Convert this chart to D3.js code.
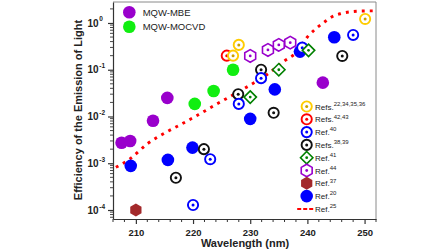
<!DOCTYPE html>
<html><head><meta charset="utf-8">
<script src="https://cdn.jsdelivr.net/npm/d3@7"></script>
<style>body{margin:0;background:#fff}svg{display:block;font-family:"Liberation Sans",Arial,sans-serif}</style>
</head><body><svg id="c" width="448" height="252"></svg>
<script>
// ---- data ----
const mbeX = [207.5, 209.0, 213.0, 215.5, 242.7];
const mbeY = [2.75e-3, 3.0e-3, 8.1e-3, 0.025, 0.053];
const mocvdX = [220.3, 223.6, 227.0];
const mocvdY = [0.0186, 0.035, 0.10];
const ref20X = [209.1, 215.6, 219.9, 230.0, 234.3, 238.7, 244.7];
const ref20Y = [8.8e-4, 1.18e-3, 2.16e-3, 8.9e-3, 0.038, 0.244, 0.495];
const ref37X = [210.0];
const ref37Y = [1e-4];
const ref3839X = [217.0, 221.9, 227.9, 231.9, 234.1, 246.1];
const ref3839Y = [4.9e-4, 2.0e-3, 0.030, 0.10, 0.012, 0.197];
const ref4243X = [225.9];
const ref4243Y = [0.2];
const ref22X = [227.0, 228.0, 250.1];
const ref22Y = [0.2, 0.34, 1.22];
const ref40X = [220.0, 223.0, 228.0, 231.9, 239.1, 248.0];
const ref40Y = [1.28e-4, 1.22e-3, 0.0186, 0.066, 0.297, 0.555];
const ref41X = [230.0, 235.0, 240.2];
const ref41Y = [0.026, 0.1, 0.26];
const ref44X = [230.0, 233.1, 235.0, 237.0];
const ref44Y = [0.197, 0.265, 0.34, 0.38];
const ref25X = [206.5, 209, 212, 215, 218, 221, 224, 227, 230, 233, 236, 238, 240, 241.5, 243, 244.5, 246, 248, 250, 252];
const ref25Y = [8.2e-4, 1.25e-3, 2.6e-3, 4.4e-3, 6.9e-3, 0.011, 0.018, 0.029, 0.047, 0.08, 0.155, 0.23, 0.5, 0.76, 1.05, 1.4, 1.6, 1.76, 1.81, 1.82];
const xTicks = [210, 220, 230, 240, 250];
const yTickExp = [0, -1, -2, -3, -4];
const legendLabels = [["Refs.", "22,34,35,36"], ["Refs.", "42,43"], ["Ref.", "40"], ["Refs.", "38,39"], ["Ref.", "41"], ["Ref.", "44"], ["Ref.", "37"], ["Ref.", "20"], ["Ref.", "25"]];

// ---- layout ----
const L = 113, R = 376, T = 2, B = 219;
const svg = d3.select("#c");
const x = d3.scaleLinear().domain([206, 252]).range([L, R]);
const y = d3.scaleLog().domain([6.42e-5, 2.81]).range([B, T]);

const C = {purple: "#9900cc", green: "#11ee11", blue: "#0000ff", brown: "#a3292b", black: "#111", red: "#ff0000", gold: "#ffcc00", dgreen: "#008000"};

// frame
svg.append("path").attr("d", `M${L},${T}H${R}V${B}`).attr("fill", "none").attr("stroke", "#8a8a8a").attr("stroke-width", 1);

// dotted line
const line = d3.line().x(d => x(d[0])).y(d => y(d[1])).curve(d3.curveMonotoneX);
svg.append("path").datum(ref25X.map((v, i) => [v, ref25Y[i]]))
  .attr("d", line).attr("fill", "none").attr("stroke", C.red).attr("stroke-width", 2.9).attr("stroke-dasharray", "2.9,5.1");

// marker helpers
function hexPath(r) {
  const p = d3.path();
  for (let i = 0; i < 6; i++) {
    const a = Math.PI / 2 + i * Math.PI / 3;
    const px = r * Math.cos(a), py = r * Math.sin(a);
    if (i === 0) p.moveTo(px, py); else p.lineTo(px, py);
  }
  p.closePath();
  return p.toString();
}
function drawMarker(g, type, cx, cy) {
  const m = g.append("g").attr("transform", `translate(${cx},${cy})`);
  if (type.kind === "disc") {
    m.append("circle").attr("r", 6.3).attr("fill", type.color);
  } else if (type.kind === "ring") {
    m.append("circle").attr("r", 5.1).attr("fill", "#fff").attr("stroke", type.color).attr("stroke-width", 1.9);
    m.append("circle").attr("r", 1.5).attr("fill", type.color === C.gold ? "#c8a000" : type.color);
  } else if (type.kind === "diamond") {
    m.append("path").attr("d", "M0,-6.2L6.2,0L0,6.2L-6.2,0Z").attr("fill", "#fff").attr("stroke", type.color).attr("stroke-width", 1.6);
    m.append("circle").attr("r", 1.4).attr("fill", type.color);
  } else if (type.kind === "hex") {
    m.append("path").attr("d", hexPath(6.3)).attr("fill", "#fff").attr("stroke", type.color).attr("stroke-width", 1.6);
    m.append("circle").attr("r", 1.4).attr("fill", type.color);
  } else if (type.kind === "hexfill") {
    m.append("path").attr("d", hexPath(6.5)).attr("fill", type.color);
  } else if (type.kind === "dash") {
    m.append("line").attr("x1", -9.5).attr("x2", 6.5).attr("stroke", type.color).attr("stroke-width", 2).attr("stroke-dasharray", "4,2");
  }
}
const T_MBE = {kind: "disc", color: C.purple};
const T_MOCVD = {kind: "disc", color: C.green};
const T_20 = {kind: "disc", color: C.blue};
const T_37 = {kind: "hexfill", color: C.brown};
const T_3839 = {kind: "ring", color: C.black};
const T_4243 = {kind: "ring", color: C.red};
const T_22 = {kind: "ring", color: C.gold};
const T_40 = {kind: "ring", color: C.blue};
const T_41 = {kind: "diamond", color: C.dgreen};
const T_44 = {kind: "hex", color: C.purple};
const T_25 = {kind: "dash", color: C.red};

const series = [
  [mbeX, mbeY, T_MBE], [mocvdX, mocvdY, T_MOCVD], [ref20X, ref20Y, T_20], [ref37X, ref37Y, T_37],
  [ref3839X, ref3839Y, T_3839], [ref4243X, ref4243Y, T_4243], [ref22X, ref22Y, T_22],
  [ref40X, ref40Y, T_40], [ref41X, ref41Y, T_41], [ref44X, ref44Y, T_44]
];
const gm = svg.append("g");
series.forEach(([xs, ys, t]) => xs.forEach((v, i) => drawMarker(gm, t, x(v), y(ys[i]))));

// ---- axes ----
const axisColor = "#333";
const xAxis = svg.append("g").attr("transform", `translate(0,${B})`)
  .call(d3.axisBottom(x).tickValues(xTicks).tickSize(5).tickSizeOuter(0).tickFormat(d3.format("d")));
xAxis.select(".domain").attr("stroke", axisColor).attr("stroke-width", 1.2);
xAxis.selectAll(".tick line").attr("stroke", axisColor).attr("stroke-width", 1.2);
xAxis.selectAll(".tick text").attr("font-size", 9.5).attr("font-weight", "bold").attr("fill", "#222").attr("dy", "0.95em")
  .attr("font-family", '"Liberation Sans",Arial,sans-serif');
const xMinor = d3.range(206, 253, 2).filter(v => v % 10 !== 0);
svg.append("g").selectAll("line").data(xMinor).join("line")
  .attr("x1", d => x(d)).attr("x2", d => x(d)).attr("y1", B).attr("y2", B + 3)
  .attr("stroke", axisColor).attr("stroke-width", 1);

const yMajor = yTickExp.map(e => Math.pow(10, e));
const yAxis = svg.append("g").attr("transform", `translate(${L},0)`)
  .call(d3.axisLeft(y).tickValues(yMajor).tickSize(5).tickSizeOuter(0).tickFormat(""));
yAxis.select(".domain").attr("stroke", axisColor).attr("stroke-width", 1.2);
yAxis.selectAll(".tick line").attr("stroke", axisColor).attr("stroke-width", 1.2);
const yMinor = [];
for (let e = -5; e <= 0; e++) for (let m = 2; m <= 9; m++) {
  const v = m * Math.pow(10, e);
  if (v >= y.domain()[0] && v <= y.domain()[1]) yMinor.push(v);
}
svg.append("g").selectAll("line").data(yMinor).join("line")
  .attr("x1", L - 3).attr("x2", L).attr("y1", d => y(d)).attr("y2", d => y(d))
  .attr("stroke", axisColor).attr("stroke-width", 0.9);
const yl = svg.append("g").selectAll("g").data(yTickExp).join("g");
yl.append("text").attr("x", 98.5).attr("y", e => y(Math.pow(10, e)) + 3.6).attr("text-anchor", "end")
  .attr("font-size", 10).attr("font-weight", "bold").attr("fill", "#222").text("10");
yl.append("text").attr("x", 99.3).attr("y", e => y(Math.pow(10, e)) - 1.5).attr("text-anchor", "start")
  .attr("font-size", 6.5).attr("font-weight", "bold").attr("fill", "#222").text(e => String(e));

// axis titles
svg.append("text").attr("x", 245).attr("y", 247).attr("text-anchor", "middle")
  .attr("font-size", 11).attr("font-weight", "bold").attr("fill", "#222").text("Wavelength (nm)");
svg.append("text").attr("transform", "translate(82,110) rotate(-90)").attr("text-anchor", "middle")
  .attr("font-size", 11).attr("font-weight", "bold").attr("fill", "#222").text("Efficiency of the Emission of Light");

// ---- legends ----
const lg1 = [[T_MBE, "MQW-MBE"], [T_MOCVD, "MQW-MOCVD"]];
lg1.forEach(([t, s], i) => {
  const cy = 12.3 + i * 14.4;
  drawMarker(svg, t, 129.3, cy);
  svg.append("text").attr("x", 142.7).attr("y", cy + 3.4).attr("font-size", 9.5).attr("fill", "#222").text(s);
});
const lgTypes = [T_22, T_4243, T_40, T_3839, T_41, T_44, T_37, T_20, T_25];
lgTypes.forEach((t, i) => {
  const cy = 106.5 + i * 12.8;
  drawMarker(svg, t, 306.7, cy);
  const tx = svg.append("text").attr("x", 315).attr("y", cy + 3).attr("font-size", 8).attr("fill", "#222");
  tx.append("tspan").text(legendLabels[i][0]);
  tx.append("tspan").attr("dy", -3.8).attr("font-size", 6).text(legendLabels[i][1]);
});
</script></body></html>
